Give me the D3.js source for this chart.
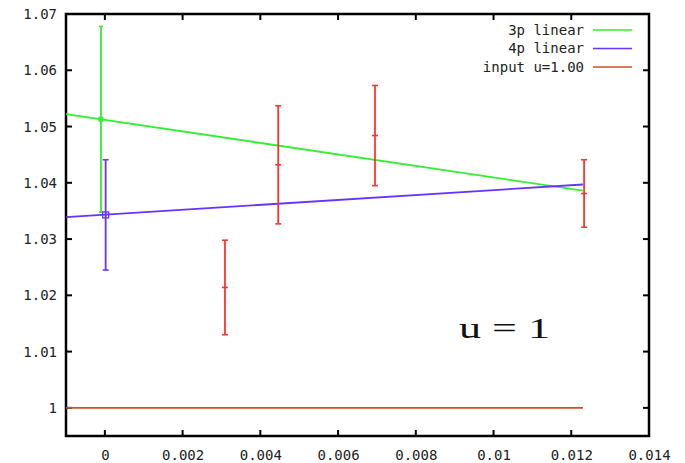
<!DOCTYPE html>
<html>
<head>
<meta charset="utf-8">
<script src="https://d3js.org/d3.v7.min.js"></script>
<style>
  body { margin: 0; background: #fff; }
  .tick text { font-family: "DejaVu Sans Mono", monospace; font-size: 14px; fill: #222; }
  .legend text { font-family: "DejaVu Sans Mono", monospace; font-size: 14px; fill: #222; }
</style>
</head>
<body>
<div id="chart"></div>
<script>
// measured points (red error bars)
var redX = [0.00309, 0.00446, 0.00695, 0.01233];
var redY = [1.0214, 1.0432, 1.0484, 1.0381];
var redErr = [0.0084, 0.0105, 0.0089, 0.0060];

// fit lines, drawn between these x ends
var fitX = [-0.001, 0.0123];
var fit3Y = [1.0522, 1.0386];
var fit4Y = [1.0339, 1.0397];
var inputY = [1.0, 1.0];

// extrapolated values at a -> 0
var ext3 = { x: -0.0001, y: 1.0513, err: 0.0165 };
var ext4 = { x: 0.00002, y: 1.0343, err: 0.0098 };

var xTicks = [0, 0.002, 0.004, 0.006, 0.008, 0.01, 0.012, 0.014];
var yTicks = [1, 1.01, 1.02, 1.03, 1.04, 1.05, 1.06, 1.07];

var legendNames = ["3p linear", "4p linear", "input u=1.00"];
var legendColors = ["#33ee33", "#6633ff", "#c8502a"];

var margin = {top: 14, right: 36, bottom: 27, left: 66},
    W = 685, H = 463,
    width = W - margin.left - margin.right,
    height = H - margin.top - margin.bottom;

var svg = d3.select("#chart").append("svg")
    .attr("width", W)
    .attr("height", H);

var g = svg.append("g")
    .attr("transform", "translate(" + margin.left + "," + margin.top + ")");

var x = d3.scaleLinear().domain([-0.001, 0.014]).range([0, width]);
var y = d3.scaleLinear().domain([0.995, 1.07]).range([height, 0]);

// tick labels only, marks drawn by hand below
g.append("g")
    .attr("transform", "translate(0," + height + ")")
    .call(d3.axisBottom(x).tickValues(xTicks).tickSize(0).tickPadding(14)
      .tickFormat(function(d) { return d === 0 ? "0" : d3.format("")(+d.toFixed(3)); }))
    .call(function(s) { s.select(".domain").remove(); });

g.append("g")
    .call(d3.axisLeft(y).tickValues(yTicks).tickSize(0).tickPadding(9)
      .tickFormat(function(d) { return d === 1 ? "1" : d3.format("")(+d.toFixed(2)); }))
    .call(function(s) { s.select(".domain").remove(); });

// inward tick marks on all four sides (not at the corner values)
var tk = 6;
var tx = xTicks.filter(function(d) { return d < 0.014; });
var ty = yTicks.filter(function(d) { return d < 1.07; });
var marks = g.append("g").attr("stroke", "#000").attr("stroke-width", 2);
tx.forEach(function(d) {
  marks.append("line").attr("x1", x(d)).attr("x2", x(d)).attr("y1", height).attr("y2", height - tk);
  marks.append("line").attr("x1", x(d)).attr("x2", x(d)).attr("y1", 0).attr("y2", tk);
});
ty.forEach(function(d) {
  marks.append("line").attr("x1", 0).attr("x2", tk).attr("y1", y(d)).attr("y2", y(d));
  marks.append("line").attr("x1", width).attr("x2", width - tk).attr("y1", y(d)).attr("y2", y(d));
});

// frame
g.append("rect")
    .attr("width", width).attr("height", height)
    .attr("fill", "none").attr("stroke", "#000").attr("stroke-width", 2.5);

// lines
var line = d3.line().x(function(d) { return x(d[0]); }).y(function(d) { return y(d[1]); });
[fit3Y, fit4Y, inputY].forEach(function(ys, i) {
  g.append("path")
      .datum(fitX.map(function(v, j) { return [v, ys[j]]; }))
      .attr("d", line)
      .attr("fill", "none")
      .attr("stroke", legendColors[i])
      .attr("stroke-width", 1.8);
});

// error bars
function errBar(cx, cy, e, color, capW, mid) {
  var px = x(cx);
  g.append("line").attr("x1", px).attr("x2", px).attr("y1", y(cy - e)).attr("y2", y(cy + e))
      .attr("stroke", color).attr("stroke-width", 1.8);
  [cy - e, cy + e].concat(mid ? [cy] : []).forEach(function(v) {
    g.append("line").attr("x1", px - capW).attr("x2", px + capW).attr("y1", y(v)).attr("y2", y(v))
        .attr("stroke", color).attr("stroke-width", 1.6);
  });
}

redX.forEach(function(v, i) { errBar(v, redY[i], redErr[i], "#ff3333", 3, true); });
errBar(ext3.x, ext3.y, ext3.err, legendColors[0], 2, false);
errBar(ext4.x, ext4.y, ext4.err, legendColors[1], 3, false);

g.append("rect")
    .attr("x", x(ext3.x) - 2.5).attr("y", y(ext3.y) - 2.5)
    .attr("width", 5).attr("height", 5)
    .attr("fill", legendColors[0]);
g.append("rect")
    .attr("x", x(ext4.x) - 3).attr("y", y(ext4.y) - 3)
    .attr("width", 6).attr("height", 6)
    .attr("fill", "none").attr("stroke", legendColors[1]).attr("stroke-width", 1.3);

// legend
var legend = svg.append("g").attr("class", "legend");
legendNames.forEach(function(name, i) {
  var ly = 30 + i * 18.5;
  legend.append("text")
      .attr("x", 584).attr("y", ly).attr("dy", "0.35em")
      .attr("text-anchor", "end")
      .text(name);
  legend.append("line")
      .attr("x1", 593).attr("x2", 632).attr("y1", ly).attr("y2", ly)
      .attr("stroke", legendColors[i]).attr("stroke-width", 1.6);
});

// annotation
svg.append("text")
    .attr("x", 459).attr("y", 338)
    .attr("font-family", "Liberation Serif, Times New Roman, serif")
    .attr("font-size", 30)
    .attr("textLength", 91)
    .attr("lengthAdjust", "spacingAndGlyphs")
    .attr("fill", "#111")
    .text("u = 1");
</script>
</body>
</html>
